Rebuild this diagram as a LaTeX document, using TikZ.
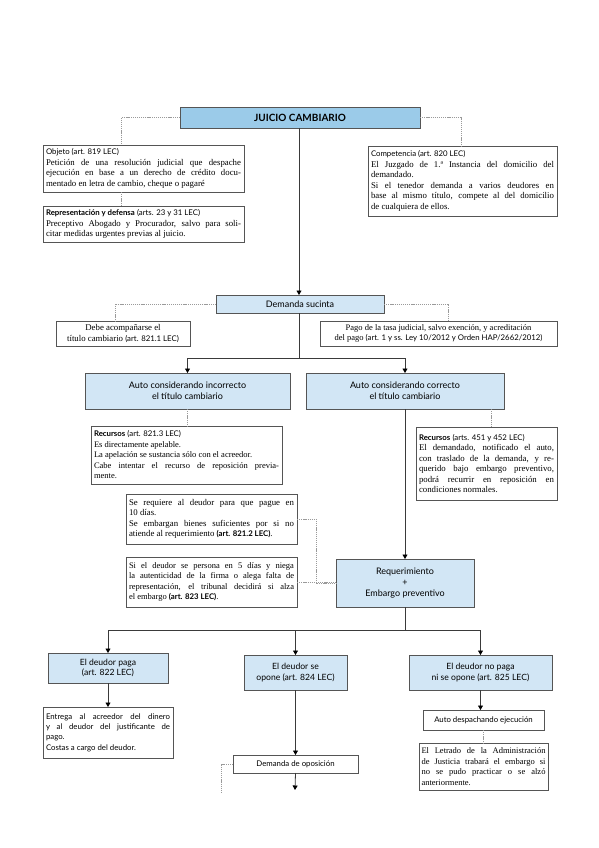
\documentclass[tikz,border=0pt]{standalone}
\usepackage{fontspec}
\setmainfont{Liberation Serif}
\newfontfamily\sansf{Lato}
\usetikzlibrary{arrows.meta,calc}
\definecolor{titleblue}{HTML}{9BCBE9}
\definecolor{lightblue}{HTML}{D2E6F5}
\definecolor{bordc}{HTML}{555555}
\definecolor{dashc}{HTML}{9A9A9A}
\definecolor{linec}{HTML}{3A3A3A}
\newcommand\bodyfnt{\fontsize{8.8}{10.5}\selectfont}
\newcommand\smallbody{\fontsize{8.5}{10.5}\selectfont}
\newcommand\hs[1]{{\sansf\fontsize{7.8}{10.5}\selectfont #1}}
\newcommand\hb[1]{{\sansf\bfseries\fontsize{7.8}{10.5}\selectfont #1}}
\begin{document}
\begin{tikzpicture}[x=1pt,y=-1pt,
  box/.style={draw=bordc, line width=0.8pt, anchor=north west, inner sep=3pt, outer sep=0pt},
  bluebox/.style={box, fill=lightblue, align=center, font=\sansf\fontsize{9}{11}\selectfont},
  txtbox/.style={box, fill=white, align=justify, font=\bodyfnt},
  ctrbox/.style={box, fill=white, align=center, font=\bodyfnt},
  conn/.style={draw=linec, line width=0.8pt},
  arr/.style={conn, -{Triangle[width=5pt,length=4.5pt,color=black]}},
  dotline/.style={draw=dashc, line width=0.6pt, dash pattern=on 1.2pt off 0.9pt},
]
\fill[white] (0,0) rectangle (599,848);
\useasboundingbox (0,0) rectangle (599,848);

% ---------- nodes ----------
\node[bluebox, fill=titleblue, minimum width=240pt, minimum height=21pt,
      font=\sansf\bfseries\fontsize{10}{12}\selectfont] (title) at (180,107) {JUICIO CAMBIARIO};

\node[txtbox, text width=195pt, minimum height=47pt] (objeto) at (43,145)
 {\hs{Objeto (art. 819 LEC)}\\
  Petición de una resolución judicial que despache\linebreak
  ejecución en base a un derecho de crédito docu-\linebreak
  mentado en letra de cambio, cheque o pagaré};

\node[txtbox, text width=195pt, minimum height=36pt] (repres) at (43,206)
 {\hb{Representación y defensa} \hs{(arts. 23 y 31 LEC)}\\
  Preceptivo Abogado y Procurador, salvo para soli-\linebreak
  citar medidas urgentes previas al juicio.};

\node[txtbox, text width=183pt, minimum height=70pt] (compet) at (368,146)
 {\hs{Competencia (art. 820 LEC)}\\
  El Juzgado de 1.ª Instancia del domicilio del\linebreak
  demandado.\\
  Si el tenedor demanda a varios deudores en\linebreak
  base al mismo título, compete al del domicilio\linebreak
  de cualquiera de ellos.};

\node[bluebox, minimum width=168pt, minimum height=18pt] (demanda) at (216,295) {Demanda sucinta};

\node[ctrbox, minimum width=134pt, minimum height=25pt, inner sep=1.5pt] (debe) at (56,321)
 {Debe acompañarse el\\ título cambiario \hs{(art. 821.1 LEC)}};

\node[ctrbox, minimum width=237pt, minimum height=25pt, inner sep=1.5pt, font=\smallbody] (pago) at (320,321)
 {Pago de la tasa judicial, salvo exención, y acreditación\\
  del pago \hs{(art. 1 y ss. Ley 10/2012 y Orden HAP/2662/2012)}};

\node[bluebox, minimum width=205pt, minimum height=36pt] (autoinc) at (85,373)
 {Auto considerando incorrecto\\ el título cambiario};
\node[bluebox, minimum width=198pt, minimum height=36pt] (autocor) at (306,373)
 {Auto considerando correcto\\ el título cambiario};

\node[txtbox, text width=185pt, minimum height=58pt, font=\smallbody] (recinc) at (91,426)
 {\hb{Recursos} \hs{(art. 821.3 LEC)}\\
  Es directamente apelable.\\
  La apelación se sustancia sólo con el acreedor.\\
  Cabe intentar el recurso de reposición previa-\linebreak
  mente.};

\node[txtbox, text width=135pt, minimum height=73pt] (reccor) at (416,427)
 {\hb{Recursos} \hs{(arts. 451 y 452 LEC)}\\
  El demandado, notificado el auto,\linebreak
  con traslado de la demanda, y re-\linebreak
  querido bajo embargo preventivo,\linebreak
  podrá recurrir en reposición en\linebreak
  condiciones normales.};

\node[txtbox, text width=165pt, minimum height=50pt] (sereq) at (126,494)
 {Se requiere al deudor para que pague en\linebreak
  10 días.\\
  Se embargan bienes suficientes por si no\linebreak
  atiende al requerimiento \hb{(art. 821.2 LEC)}.};

\node[txtbox, text width=165pt, minimum height=50pt, font=\smallbody] (sideu) at (126,557)
 {Si el deudor se persona en 5 días y niega\linebreak
  la autenticidad de la firma o alega falta de\linebreak
  representación, el tribunal decidirá si alza\linebreak
  el embargo \hb{(art. 823 LEC)}.};

\node[bluebox, minimum width=138pt, minimum height=48pt] (req) at (336,559)
 {Requerimiento\\ +\\ Embargo preventivo};

\node[bluebox, minimum width=120pt, minimum height=30pt, font=\sansf\fontsize{8.6}{10.6}\selectfont] (paga) at (48,653)
 {El deudor paga\\ (art. 822 LEC)};
\node[bluebox, minimum width=103pt, minimum height=35pt, font=\sansf\fontsize{8.6}{10.6}\selectfont] (opone) at (244,655)
 {El deudor se\\ opone (art. 824 LEC)};
\node[bluebox, minimum width=143pt, minimum height=35pt, font=\sansf\fontsize{8.6}{10.6}\selectfont] (nopaga) at (409,655)
 {El deudor no paga\\ ni se opone (art. 825 LEC)};

\node[box, fill=white, align=justify, text width=124pt, minimum height=51pt,
      font=\sansf\fontsize{7.8}{10.4}\selectfont] (entrega) at (43,707)
 {Entrega al acreedor del dinero\linebreak
  y al deudor del justificante de\linebreak
  pago.\\
  Costas a cargo del deudor.};

\node[box, fill=white, align=center, minimum width=125pt, minimum height=18pt,
      font=\sansf\fontsize{7.8}{10}\selectfont] (demop) at (233,755) {Demanda de oposición};

\node[box, fill=white, align=center, minimum width=121pt, minimum height=20pt,
      font=\sansf\fontsize{7.8}{10}\selectfont] (autodesp) at (423,710) {Auto despachando ejecución};

\node[txtbox, text width=124pt, minimum height=47pt, inner sep=2.5pt, font=\smallbody] (letrado) at (419,743)
 {El Letrado de la Administración\linebreak
  de Justicia trabará el embargo si\linebreak
  no se pudo practicar o se alzó\linebreak
  anteriormente.};

% ---------- coordinates ----------
\coordinate (split1) at (299,358);
\coordinate (split2) at (405,630);
\coordinate (stub) at (295,790);
\coordinate (dashend) at (221,792);

% ---------- connectors ----------
\draw[arr] (title.south -| 299,0) -- (demanda.north -| 299,0);
\draw[dotline] (title.west) -| ([xshift=-22pt]objeto.north);
\draw[dotline] ([xshift=-22pt]objeto.south) -- ([xshift=-22pt]repres.north);
\draw[dotline] (title.east) -| (461,0 |- compet.north);

\draw[dotline] (demanda.west) -| (115,0 |- debe.north);
\draw[dotline] (demanda.east) -| (448,0 |- pago.north);

\draw[conn] (demanda.south -| split1) -- (split1);
\draw[arr] (split1) -| (autoinc.north);
\draw[arr] (split1) -| (autocor.north);

\draw[dotline] (autoinc.south) -- (recinc.north -| autoinc.south);
\draw[dotline] (491,0 |- autocor.south) -- (491,0 |- reccor.north);

\draw[arr] (autocor.south) -- (req.north);

\draw[dotline] (sereq.east) -| (316,0 |- req.west) -- (req.west);
\draw[dotline] (sideu.east) -- (sideu.east -| req.west);

\draw[conn] (req.south) -- (split2);
\draw[arr] (split2) -| (paga.north);
\draw[arr] (split2) -| (opone.north);
\draw[arr] (split2) -| (nopaga.north);

\draw[arr] (paga.south) -- (entrega.north -| paga.south);
\draw[arr] (opone.south) -- (demop.north -| opone.south);
\draw[arr] (demop.south -| opone.south) -- (stub);
\draw[dotline] (demop.west) -| (dashend);
\draw[arr] (nopaga.south) -- (autodesp.north -| nopaga.south);
\draw[dotline] (autodesp.south) -- (letrado.north -| autodesp.south);
\end{tikzpicture}
\end{document}
